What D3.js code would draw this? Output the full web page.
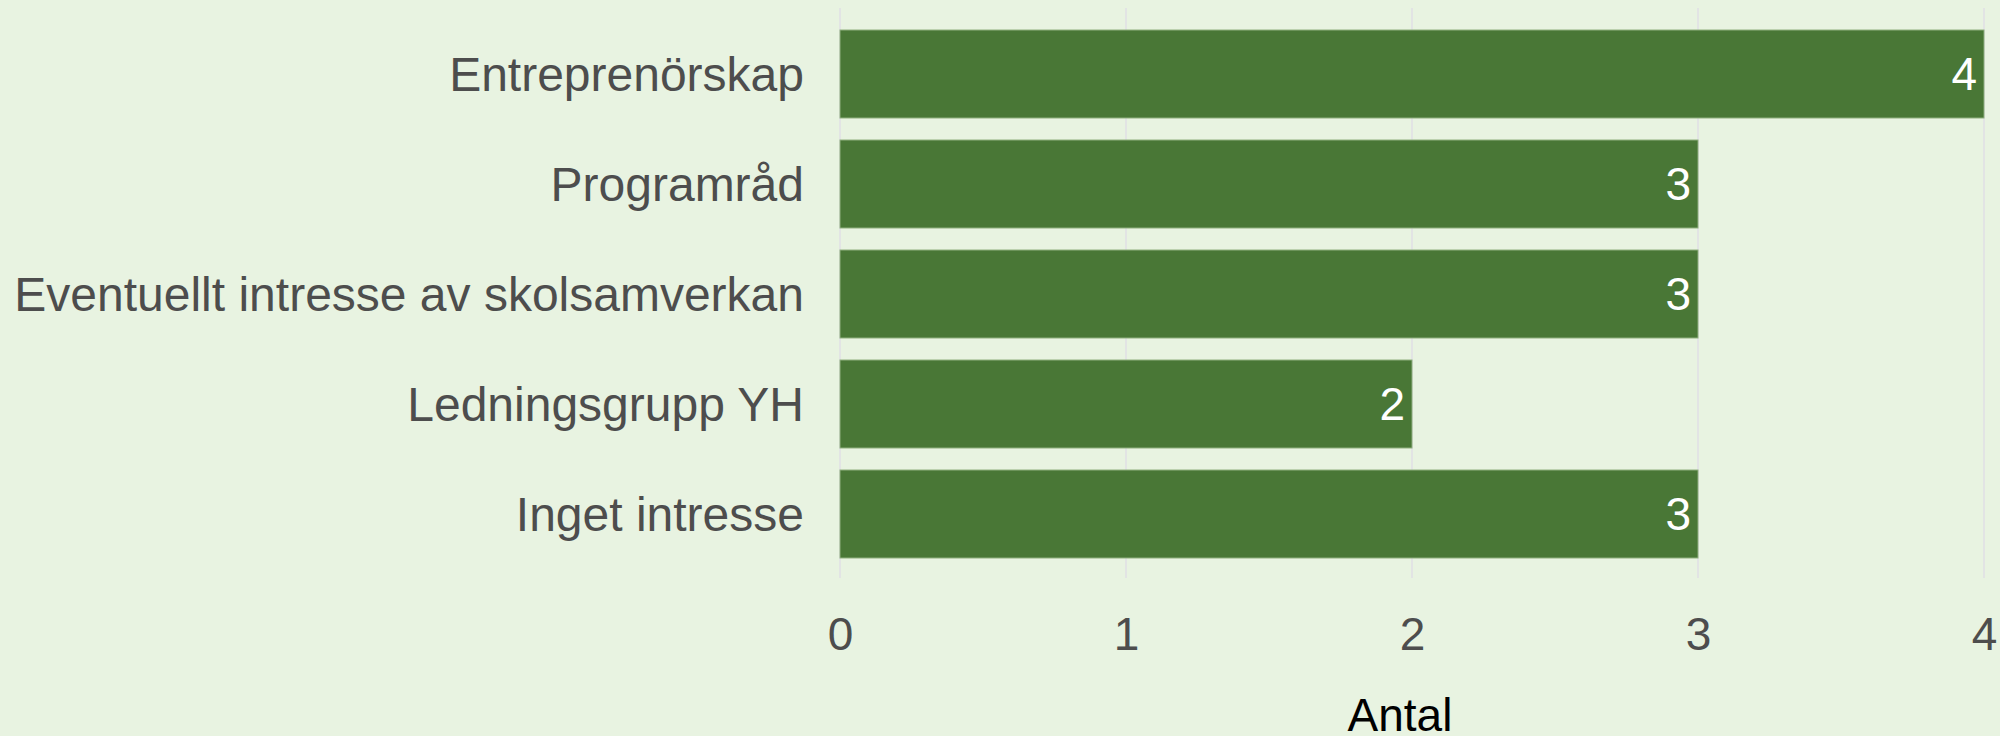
<!DOCTYPE html>
<html>
<head>
<meta charset="utf-8">
<script src="https://cdn.jsdelivr.net/npm/d3@7"></script>
<style>
  html, body { margin: 0; padding: 0; background: #e8f3e1; }
  svg { display: block; font-family: "Liberation Sans", Arial, sans-serif; }
</style>
</head>
<body>
<div id="chart"></div>
<script>
// horizontal bar chart, counts per category

const categories = ["Entreprenörskap", "Programråd", "Eventuellt intresse av skolsamverkan", "Ledningsgrupp YH", "Inget intresse"];
const values = [4, 3, 3, 2, 3];
const ticks = [0, 1, 2, 3, 4];

const W = 2000, H = 736;
const plotLeft = 840, plotRight = 1984;
const plotTop = 8, plotBottom = 580;

const data = categories.map((c, i) => ({ name: c, value: values[i] }));

const svg = d3.select("#chart").append("svg")
  .attr("width", W)
  .attr("height", H)

svg.append("rect")
  .attr("width", W)
  .attr("height", H)
  .attr("fill", "#e8f3e1")

const x = d3.scaleLinear()
  .domain([0, 4])
  .range([plotLeft, plotRight]);

const y = d3.scaleBand()
  .domain(categories)
  .range([plotTop, plotBottom])
  .padding(0.2);

// vertical grid
svg.append("g")
  .selectAll("line")
  .data(ticks)
  .enter()
  .append("line")
  .attr("x1", d => x(d))
  .attr("x2", d => x(d))
  .attr("y1", plotTop)
  .attr("y2", plotBottom - 2)
  .attr("stroke", "#e2e4e4")
  .attr("stroke-width", 2)

// bars
svg.append("g")
  .selectAll("rect")
  .data(data)
  .enter()
  .append("rect")
  .attr("x", x(0))
  .attr("y", d => y(d.name))
  .attr("width", d => x(d.value) - x(0))
  .attr("height", y.bandwidth())
  .attr("fill", "#497736")
  .attr("stroke", "#8fb07f")
  .attr("stroke-width", 1)

// value labels
svg.append("g")
  .selectAll("text")
  .data(data)
  .enter()
  .append("text")
  .attr("x", d => x(d.value) - 7)
  .attr("y", d => y(d.name) + y.bandwidth() / 2)
  .attr("dy", "0.35em")
  .attr("text-anchor", "end")
  .attr("fill", "#ffffff")
  .style("font-size", "46px")
  .text(d => d.value)

// category axis
const yAxis = svg.append("g")
  .attr("transform", `translate(${plotLeft - 36}, 0)`)
  .call(d3.axisLeft(y).tickSize(0).tickPadding(0));
yAxis.select(".domain").remove();
yAxis.selectAll("text")
  .attr("fill", "#4d4d4d")
  .attr("dy", "0.35em")
  .style("font-size", "48px")
  .style("font-family", "Liberation Sans, Arial, sans-serif")

// value axis
const xAxis = svg.append("g")
  .attr("transform", `translate(0, ${plotBottom})`)
  .call(d3.axisBottom(x).tickValues(ticks).tickFormat(d3.format("d")).tickSize(0).tickPadding(37));
xAxis.select(".domain").remove();
xAxis.selectAll("text")
  .attr("fill", "#4d4d4d")
  .style("font-size", "46px")
  .style("font-family", "Liberation Sans, Arial, sans-serif")

svg.append("text")
  .attr("x", (x(0) + x(4)) / 2 - 12)
  .attr("y", 731)
  .attr("text-anchor", "middle")
  .attr("fill", "#000000")
  .style("font-size", "46px")
  .text("Antal")
</script>
</body>
</html>
